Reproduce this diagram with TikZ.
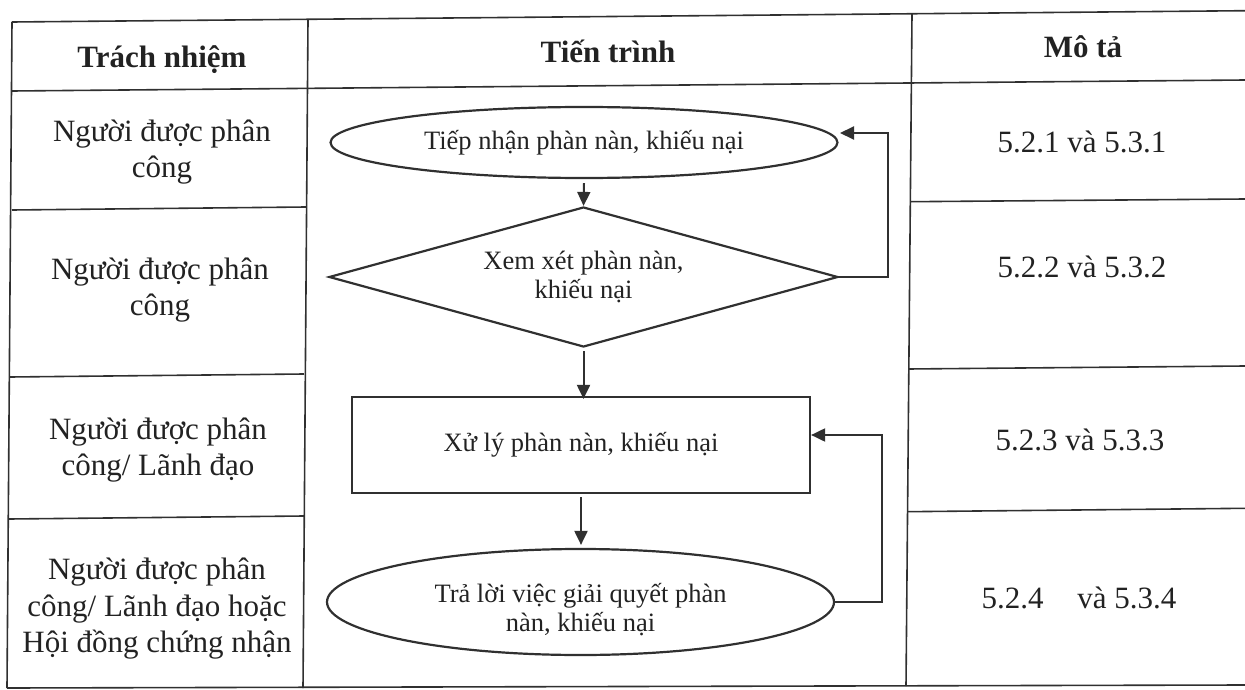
\documentclass[tikz,border=0pt]{standalone}
\usepackage{fontspec}
\setmainfont{Liberation Serif}
\usetikzlibrary{shapes.geometric,arrows.meta}
\definecolor{ink}{HTML}{222222}
\definecolor{lin}{HTML}{303030}
\begin{document}
\begin{tikzpicture}[x=1pt,y=-1pt,
  tline/.style={draw=lin,line width=1.6pt},
  cell/.style={text=ink,font=\fontsize{31}{36.5}\selectfont,align=center,inner sep=0pt},
  head/.style={text=ink,font=\fontsize{31}{36.5}\selectfont\bfseries,inner sep=0pt},
  ftext/.style={text=ink,font=\fontsize{26.5}{29}\selectfont,align=center},
  shp/.style={draw=lin,line width=2.2pt,inner sep=0pt},
  flow/.style={draw=lin,line width=2pt,-{Triangle[length=14pt,width=13pt]}}]
\useasboundingbox (0,0) rectangle (1245,690);
% table grid
\draw[tline] (12,22) -- (1245,10.7);
\draw[tline] (12,91) -- (1245,80);
\draw[tline] (12,210) -- (306,207);
\draw[tline] (10,377) -- (304,374);
\draw[tline] (9,519) -- (304,516);
\draw[tline] (911,201.7) -- (1245,199);
\draw[tline] (908,369) -- (1245,366);
\draw[tline] (907,511.7) -- (1245,508.3);
\draw[tline] (7,688) -- (1245,685);
\draw[tline] (12,22) -- (7,688);
\draw[tline] (308,20) -- (303,688);
\draw[tline] (912,14) -- (906,686);
% headers
\node[head,anchor=base] (h1) at (162,68) {Trách nhiệm};
\node[head,anchor=base] (h2) at (608,63) {Tiến trình};
\node[head,anchor=base] (h3) at (1083,58) {Mô tả};
% column 1
\node[cell] (a1) at (162,152) {Người được phân\\công};
\node[cell] (a2) at (160,290) {Người được phân\\công};
\node[cell] (a3) at (158,450) {Người được phân\\công/ Lãnh đạo};
\node[cell] (a4) at (157,609) {Người được phân\\công/ Lãnh đạo hoặc\\Hội đồng chứng nhận};
% column 3
\node[cell,anchor=base] (m1) at (1082,153) {5.2.1 và 5.3.1};
\node[cell,anchor=base] (m2) at (1082,277) {5.2.2 và 5.3.2};
\node[cell,anchor=base] (m3) at (1080,450) {5.2.3 và 5.3.3};
\node[cell,anchor=base] (m4) at (1079,608) {5.2.4\hspace{26pt} và 5.3.4};
% flowchart
\node[shp,ellipse,minimum width=507pt,minimum height=71pt,ftext] (e1) at (584,142.5) {Tiếp nhận phàn nàn, khiếu nại};
\node[shp,diamond,aspect=3.6,minimum width=509pt,minimum height=140pt,ftext] (d) at (583.5,277) {Xem xét phàn nàn,\\khiếu nại};
\node[shp,rectangle,minimum width=458pt,minimum height=96pt,ftext] (r) at (581,445) {Xử lý phàn nàn, khiếu nại};
\node[shp,ellipse,minimum width=507pt,minimum height=106pt,ftext] (e2) at (580.5,602) {\rule{0pt}{34pt}Trả lời việc giải quyết phàn\\nàn, khiếu nại};
\coordinate (k1) at (888,133);
\coordinate (t1) at (840,133);
\coordinate (k2) at (882,435);
\draw[flow] ([yshift=-4pt]e1.south) -- (d.north);
\draw[flow] ([yshift=-3pt]d.south) -- ([yshift=-3pt]d.south |- r.north);
\draw[flow] ([yshift=-3pt]r.south) -- ([yshift=3pt]r.south |- e2.north);
\draw[flow] (d.east) -| (k1) -- (t1);
\draw[flow] (e2.east) -| (k2) -- (r.east |- k2);
\end{tikzpicture}
\end{document}
